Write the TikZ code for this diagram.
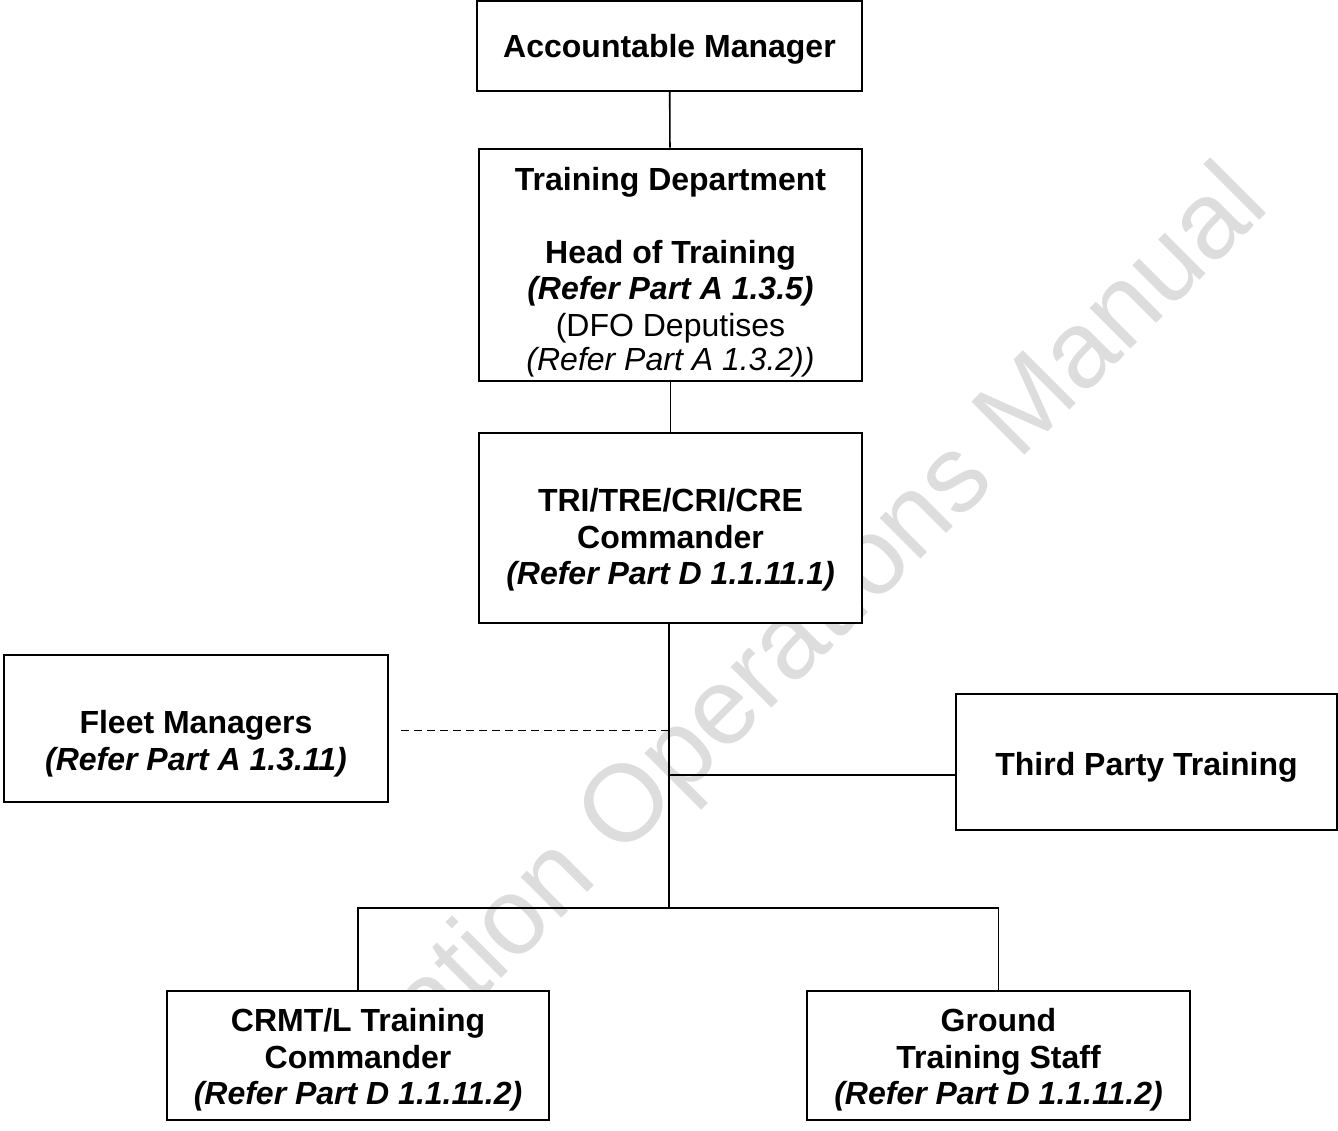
\documentclass[tikz,border=0pt]{standalone}
\usepackage{fontspec}
\setmainfont{Liberation Sans}
\definecolor{wmgray}{RGB}{221,221,221}

\begin{document}
\begin{tikzpicture}[x=0.5pt,y=-0.5pt,
        orgbox/.style={draw,line width=1pt,fill=white,align=center,inner sep=2pt,
            font=\fontsize{16}{18.2}\selectfont\bfseries},
        link/.style={line width=0.8pt}]

    \useasboundingbox (0,0) rectangle (1338,1130);

    % Watermark, under the boxes
    \node [wmgray,rotate=45,anchor=base east,inner sep=0pt,
        font=\fontsize{54.5}{60}\selectfont] (mark) at (1272,208) {ation Operations Manual};

    % Boxes of the chart
    \node [orgbox,minimum width=192.5pt,minimum height=45pt] (am) at (669.5,46)
        {\rule{0pt}{14.8pt}Accountable Manager};
    \node [orgbox,minimum width=191.5pt,minimum height=116pt] (td) at (670.5,265)
        {\rule{0pt}{19pt}Training Department\\[18.2pt] Head of Training\\ \textit{(Refer Part A 1.3.5)}\\
         \mdseries (DFO Deputises\\[-1pt] \mdseries\textit{(Refer Part A 1.3.2))}};
    \node [orgbox,minimum width=191.5pt,minimum height=95pt] (tri) at (670.5,528)
        {\rule{0pt}{23.4pt}TRI/TRE/CRI/CRE\\ Commander\\ \textit{(Refer Part D 1.1.11.1)}};
    \node [orgbox,minimum width=192pt,minimum height=73.5pt] (fm) at (196,728.5)
        {\rule{0pt}{27pt}Fleet Managers\\ \textit{(Refer Part A 1.3.11)}};
    \node [orgbox,minimum width=190.5pt,minimum height=68pt] (tp) at (1146.5,762)
        {\rule{0pt}{16.7pt}Third Party Training};
    \node [orgbox,minimum width=191pt,minimum height=64.5pt] (crmt) at (358,1055.5)
        {\rule{0pt}{16.2pt}CRMT/L Training\\ Commander\\ \textit{(Refer Part D 1.1.11.2)}};
    \node [orgbox,minimum width=191.5pt,minimum height=64.5pt] (gts) at (998.5,1055.5)
        {\rule{0pt}{16.2pt}Ground\\ Training Staff\\ \textit{(Refer Part D 1.1.11.2)}};

    % Lines between the boxes
    \coordinate (bar) at (669,908);
    \draw [link] (am) -- (td);
    \draw [link] (td) -- (tri);
    \draw [link] (tri.south -| bar) -- (bar);
    \draw [link] (crmt.north) |- (bar) -| (gts.north);
    \draw [link,dash pattern=on 4pt off 2.5pt] ([xshift=6pt,yshift=-1pt]fm.east) -- ([yshift=-1pt]fm.east -| bar);
    \draw [link] ([yshift=-6.5pt]tp.west) -- ([yshift=-6.5pt]tp.west -| bar);

\end{tikzpicture}
\end{document}
